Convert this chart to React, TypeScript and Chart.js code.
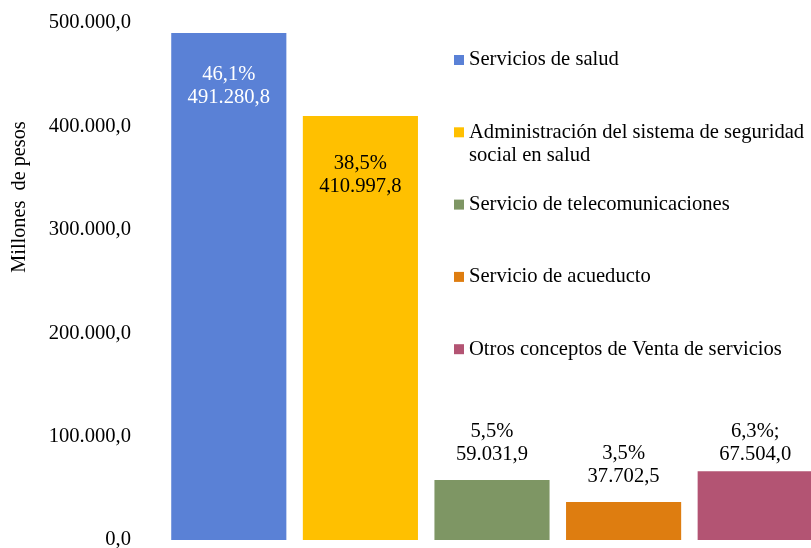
import React, { useEffect, useRef } from "react";
import { Chart, registerables } from "chart.js";

Chart.register(...registerables);

const categories = [
  "Servicios de salud",
  "Administración del sistema de seguridad social en salud",
  "Servicio de telecomunicaciones",
  "Servicio de acueducto",
  "Otros conceptos de Venta de servicios",
];
const values = [491280.8, 410997.8, 59031.9, 37702.5, 67504.0];
const percents = [46.1, 38.5, 5.5, 3.5, 6.3];
const percentSuffixes = ["", "", "", "", ";"];
const colors = ["#5A81D6", "#FFC000", "#7E9664", "#DE7D10", "#B35473"];
const yTicks = [0, 100000, 200000, 300000, 400000, 500000];
const yTitle = "Millones  de pesos";

const FONT = "'Liberation Serif', 'Times New Roman', serif";
const TEXT_SIZE = 20.6;

function fmtNum(v: number, decimals = 1): string {
  const fixed = Math.abs(v).toFixed(decimals);
  const [intPart, dec] = fixed.split(".");
  const intS = intPart.replace(/\B(?=(\d{3})+(?!\d))/g, ".");
  return (v < 0 ? "-" : "") + intS + (dec !== undefined ? "," + dec : "");
}

const labelStyle = {
  colors: ["#FFFFFF", "#000000", "#000000", "#000000", "#000000"],
  firstLineOffset: [43, 49, -47, -47, -39],
  lineGap: 23,
};

const legendStyle = {
  squareX: 454,
  textX: 469,
  startY: 60,
  step: 72.3,
  maxWidth: 345,
  lineHeight: 23.5,
  square: 10,
};

function wrap(ctx: CanvasRenderingContext2D, text: string, maxWidth: number): string[] {
  const words = text.split(" ");
  const lines: string[] = [];
  let cur = "";
  for (const w of words) {
    const t = cur ? cur + " " + w : w;
    if (ctx.measureText(t).width > maxWidth && cur) {
      lines.push(cur);
      cur = w;
    } else cur = t;
  }
  if (cur) lines.push(cur);
  return lines;
}

const dataLabelPlugin = {
  id: "dataLabelPlugin",
  afterDatasetsDraw(chart: any) {
    const ctx = chart.ctx as CanvasRenderingContext2D;
    const meta = chart.getDatasetMeta(0);
    ctx.save();
    ctx.font = `${TEXT_SIZE}px ${FONT}`;
    ctx.textAlign = "center";
    ctx.textBaseline = "middle";
    meta.data.forEach((el: any, i: number) => {
      const x = el.x;
      const top = el.y;
      const y1 = top + labelStyle.firstLineOffset[i];
      ctx.fillStyle = labelStyle.colors[i];
      ctx.fillText(fmtNum(percents[i]) + "%" + percentSuffixes[i], x, y1);
      ctx.fillText(fmtNum(values[i]), x, y1 + labelStyle.lineGap);
    });
    ctx.restore();
  },
};

const legendAndTitlePlugin = {
  id: "legendAndTitlePlugin",
  afterDraw(chart: any) {
    const ctx = chart.ctx as CanvasRenderingContext2D;
    ctx.save();
    ctx.font = `${TEXT_SIZE}px ${FONT}`;
    ctx.textBaseline = "middle";
    ctx.textAlign = "left";
    categories.forEach((c, i) => {
      const y = legendStyle.startY + i * legendStyle.step;
      ctx.fillStyle = colors[i];
      ctx.fillRect(
        legendStyle.squareX,
        y - legendStyle.square / 2,
        legendStyle.square,
        legendStyle.square
      );
      ctx.fillStyle = "#000000";
      const lines = wrap(ctx, c, legendStyle.maxWidth);
      lines.forEach((ln, j) => {
        ctx.fillText(ln, legendStyle.textX, y + j * legendStyle.lineHeight);
      });
    });
    ctx.translate(20, 197);
    ctx.rotate(-Math.PI / 2);
    ctx.textAlign = "center";
    ctx.font = `20.3px ${FONT}`;
    ctx.fillStyle = "#000000";
    ctx.fillText(yTitle, 0, 0);
    ctx.restore();
  },
};

export default function App() {
  const canvasRef = useRef<HTMLCanvasElement | null>(null);

  useEffect(() => {
    const canvas = canvasRef.current;
    if (!canvas) return;
    const chart = new Chart(canvas, {
      type: "bar",
      data: {
        labels: categories,
        datasets: [
          {
            data: values,
            backgroundColor: colors,
            borderColor: "rgba(255,255,255,0.45)",
            borderWidth: 1,
            barPercentage: 0.89,
            categoryPercentage: 1.0,
          },
        ],
      },
      options: {
        responsive: false,
        animation: false,
        devicePixelRatio: 1,
        layout: { padding: { left: 48, right: 1, top: 23, bottom: 8 } },
        plugins: {
          legend: { display: false },
          tooltip: { enabled: false },
          title: { display: false },
        },
        scales: {
          x: {
            display: false,
            grid: { display: false },
          },
          y: {
            min: 0,
            max: 500000,
            afterBuildTicks: (scale: any) => {
              scale.ticks = yTicks.map((v) => ({ value: v }));
            },
            afterFit: (scale: any) => {
              scale.width = 115;
              scale.paddingTop = 0;
              scale.paddingBottom = 0;
            },
            grid: { display: false, drawTicks: false },
            border: { display: false },
            ticks: {
              padding: 32,
              color: "#000000",
              font: { family: FONT, size: TEXT_SIZE },
              callback: (v: any) => fmtNum(Number(v)),
            },
          },
        },
      },
      plugins: [dataLabelPlugin, legendAndTitlePlugin],
    });
    return () => chart.destroy();
  }, []);

  return (
    <div
      style={{
        position: "fixed",
        left: 0,
        top: 0,
        width: 811,
        height: 548,
        overflow: "hidden",
        background: "#ffffff",
      }}
    >
      <canvas ref={canvasRef} width={822} height={548} style={{ display: "block" }} />
    </div>
  );
}
